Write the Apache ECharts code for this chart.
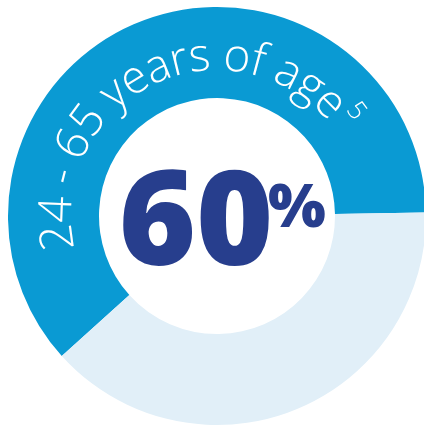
<!DOCTYPE html>
<html>
<head>
<meta charset="utf-8">
<style>
  html, body { margin: 0; padding: 0; background: #ffffff; }
  #chart { width: 424px; height: 426px; }
</style>
<script src="https://cdn.jsdelivr.net/npm/echarts@6/dist/echarts.min.js"></script>
</head>
<body>
<div id="chart"></div>
<script>
// donut share + curved caption
var segmentNames = ['24 - 65 years of age', 'Other ages'];
var segmentValues = [61.4, 38.6];
var segmentColors = ['#0a9ad3', '#e1eff8'];
var centerValue = '60';
var centerUnit = '%';
var arcCaption = '24 - 65 years of age';
var footnoteMark = '5';

(function() {
  var cx = 217, cy = 216;
  var navy = '#273e8d';
  var chart = echarts.init(document.getElementById('chart'), null, { renderer: 'canvas' });

  // caption runs clockwise along the ring, first glyph centred at 187.7deg, last at 45deg
  var capSize = 46;
  var capFont = '300 ' + capSize + 'px "Open Sans", Lato, "Noto Sans", sans-serif';
  var supFont = '300 26px "Open Sans", Lato, "Noto Sans", sans-serif';
  var ctx = document.createElement('canvas').getContext('2d');
  ctx.font = capFont;
  var rBase = 146;
  var rMid = rBase + 0.285 * capSize;
  var firstDeg = 187.7, lastDeg = 45;
  var widths = [];
  for (var i = 0; i < arcCaption.length; i++) widths.push(ctx.measureText(arcCaption[i]).width);
  var natural = 0;
  for (i = 0; i < widths.length; i++) natural += widths[i];
  natural -= (widths[0] + widths[widths.length - 1]) / 2;
  var span = (firstDeg - lastDeg) * Math.PI / 180 * rBase;
  var track = (span - natural) / (widths.length - 1);

  var graphics = [];
  var s = 0;
  for (i = 0; i < arcCaption.length; i++) {
    if (i > 0) s += widths[i - 1] / 2 + widths[i] / 2 + track;
    var a = firstDeg * Math.PI / 180 - s / rBase;
    if (arcCaption[i] === ' ') continue;
    graphics.push({
      type: 'text',
      z: 10,
      x: cx + rMid * Math.cos(a),
      y: cy - rMid * Math.sin(a),
      rotation: a - Math.PI / 2,
      style: { text: arcCaption[i], font: capFont, fill: '#ffffff', align: 'center', verticalAlign: 'middle' },
      silent: true
    });
  }
  // footnote mark, raised towards the outer edge
  var aSup = 37 * Math.PI / 180;
  var rSup = 174;
  graphics.push({
    type: 'text',
    z: 10,
    x: cx + rSup * Math.cos(aSup),
    y: cy - rSup * Math.sin(aSup),
    rotation: aSup - Math.PI / 2,
    style: { text: footnoteMark, font: supFont, fill: '#ffffff', align: 'center', verticalAlign: 'middle' },
    silent: true
  });

  // big centre figure
  graphics.push({
    type: 'text',
    z: 10,
    x: 196,
    y: 227,
    style: { text: centerValue, font: '800 132px "Open Sans", Lato, sans-serif', fill: navy, align: 'center', verticalAlign: 'middle' },
    silent: true
  });
  graphics.push({
    type: 'text',
    z: 10,
    x: 268,
    y: 210,
    style: { text: centerUnit, font: '800 61px "Open Sans", Lato, sans-serif', fill: navy, align: 'left', verticalAlign: 'middle' },
    silent: true
  });

  chart.setOption({
    animation: false,
    series: [{
      type: 'pie',
      z: 1,
      center: [cx, cy],
      radius: [118, 209],
      startAngle: 1,
      clockwise: false,
      silent: true,
      label: { show: false },
      labelLine: { show: false },
      itemStyle: { borderWidth: 0 },
      data: segmentValues.map(function(v, k) {
        return { name: segmentNames[k], value: v, itemStyle: { color: segmentColors[k] } };
      })
    }],
    graphic: graphics
  });

  window.addEventListener('resize', function() { chart.resize(); });
})();
</script>
</body>
</html>
